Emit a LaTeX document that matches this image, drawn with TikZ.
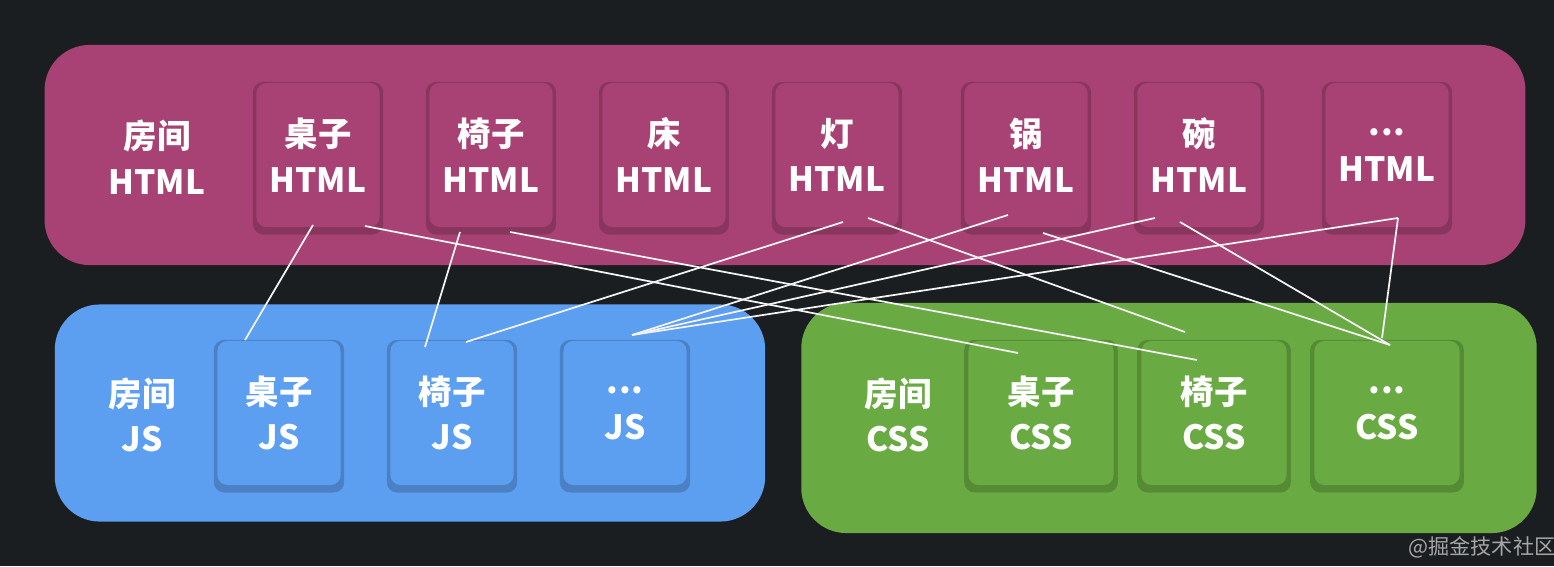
\documentclass[tikz,border=0pt]{standalone}
\usepackage{fontspec}
\setmainfont{Noto Sans CJK SC}
\usetikzlibrary{positioning,shadows}
\definecolor{bgdark}{HTML}{1B1E21}
\definecolor{htmlred}{HTML}{A84275}
\definecolor{jsblue}{HTML}{5C9EF0}
\definecolor{cssgreen}{HTML}{6AAA43}
\newcommand{\dotstxt}{.\kern0.02em.\kern0.02em.}
\begin{document}
\begin{tikzpicture}[x=0.01cm, y=-0.01cm,
        every node/.style={align=center, text=white, font=\fontsize{9.5}{13}\selectfont\bfseries},
        group/.style={rounded corners=0.45cm, draw=none},
        item/.style={rounded corners=0.1cm, minimum width=1.23cm, minimum height=1.44cm,
          general shadow={fill=black, opacity=0.18, shadow scale=1.06, shadow yshift=-0.3mm}},
        link/.style={draw=white!90!gray, line width=0.5pt},
      ]
      \fill[bgdark] (0,0) rectangle (1554,566);
      \useasboundingbox (0,0) rectangle (1554,566);
      % groups
      \node[group, fill=htmlred, minimum width=14.8cm, minimum height=2.2cm] (html) at (785,155) {};
      \node[group, fill=jsblue, minimum width=7.1cm, minimum height=2.17cm] (js) at (410,413) {};
      \node[group, fill=cssgreen, minimum width=7.35cm, minimum height=2.3cm] (css) at (1169,418) {};
      % labels
      \node (roomH) at (157,157) {房间\\HTML};
      \node (roomJ) at (142,415) {房间\\JS};
      \node (roomC) at (898,415) {房间\\CSS};
      % html items
      \foreach \x/\name/\txt in {318/deskH/桌子, 491/chairH/椅子, 664/bedH/床, 837/lampH/灯,
                                 1026/potH/锅, 1199/bowlH/碗, 1387/moreH/\dotstxt}
        \node[item, fill=htmlred] (\name) at (\x,155) {\txt\\HTML};
      % js items
      \foreach \x/\name/\txt in {279/deskJ/桌子, 452/chairJ/椅子, 625/moreJ/\dotstxt}
        \node[item, fill=jsblue] (\name) at (\x,413) {\txt\\JS};
      % css items
      \foreach \x/\name/\txt in {1041/deskC/桌子, 1214/chairC/椅子, 1387/moreC/\dotstxt}
        \node[item, fill=cssgreen, minimum width=1.45cm] (\name) at (\x,413) {\txt\\CSS};
      % link ends
      \coordinate (deskH1) at (313,225);  \coordinate (deskH2) at (365,226);
      \coordinate (chairH1) at (460,232); \coordinate (chairH2) at (510,232);
      \coordinate (lampH1) at (843,222);  \coordinate (lampH2) at (868,218);
      \coordinate (potH1) at (1008,215);  \coordinate (potH2) at (1043,233);
      \coordinate (bowlH1) at (1155,218); \coordinate (bowlH2) at (1180,222);
      \coordinate (moreH1) at (1398,218);
      \coordinate (deskJ1) at (245,340);  \coordinate (chairJ1) at (425,347);
      \coordinate (chairJ2) at (466,342); \coordinate (moreJ1) at (632,335);
      \coordinate (deskC1) at (1018,353); \coordinate (chairC1) at (1197,360);
      \coordinate (chairC2) at (1185,332);
      \coordinate (moreC1) at (1390,345); \coordinate (moreC2) at (1382,338);
      % links
      \draw[link] (deskH1) -- (deskJ1);
      \draw[link] (deskH2) -- (deskC1);
      \draw[link] (chairH1) -- (chairJ1);
      \draw[link] (chairH2) -- (chairC1);
      \draw[link] (lampH1) -- (chairJ2);
      \draw[link] (lampH2) -- (chairC2);
      \draw[link] (potH1) -- (moreJ1);
      \draw[link] (potH2) -- (moreC1);
      \draw[link] (bowlH1) -- (moreJ1);
      \draw[link] (bowlH2) -- (moreC1);
      \draw[link] (moreH1) -- (moreJ1);
      \draw[link] (moreH1) -- (moreC2);
      \node[text=gray!70, font=\fontsize{6}{7}\selectfont] (mark) at (1482,547) {@掘金技术社区};
    \end{tikzpicture}
\end{document}
